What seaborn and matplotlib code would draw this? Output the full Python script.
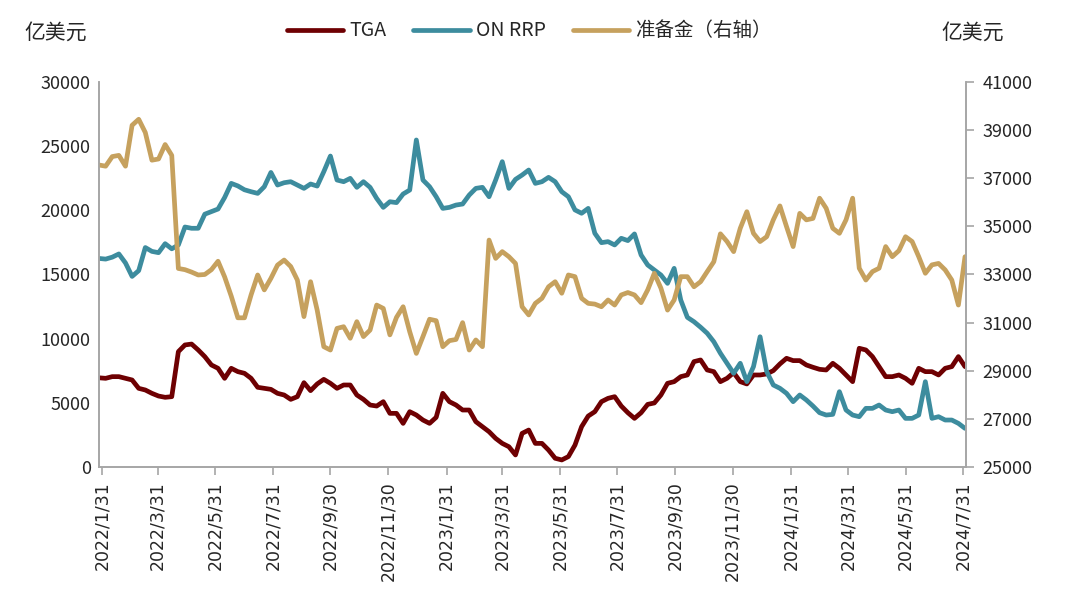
import pandas as pd
import seaborn as sns
import matplotlib.pyplot as plt

# weekly observations, 亿美元
start_date = "2022-01-28"

tga = [6950,
       6910, 7040, 7040, 6910, 6780, 6130, 6000, 5740, 5530, 5430, 5480, 8990, 9510, 9580, 9120, 8600, 7950, 7690, 6910, 7690, 7430, 7300,
       6910, 6210, 6130, 6050, 5740, 5610, 5270, 5480, 6570, 5950, 6470, 6830, 6520, 6130, 6390, 6390, 5610, 5270, 4830, 4750, 5090, 4180,
       4180, 3400, 4310, 4050, 3660, 3400, 3870, 5740, 5090, 4830, 4440, 4440, 3530, 3140, 2750, 2230, 1840, 1580, 940, 2620, 2880, 1840,
       1840, 1320, 680, 550, 810, 1710, 3140, 3970, 4310, 5090, 5350, 5480, 4750, 4230, 3790, 4230, 4880, 4990, 5610, 6520, 6650, 7040,
       7170, 8210, 8340, 7560, 7430, 6650, 6910, 7350, 6650, 6470, 7170, 7170, 7250, 7510, 8030, 8470, 8290, 8290, 7950, 7770, 7610, 7560,
       8080, 7690, 7170, 6650, 9250, 9120, 8600, 7820, 7040, 7040, 7170, 6910, 6520, 7690, 7430, 7430, 7170, 7690, 7820, 8600, 7820]

on_rrp = [16250,
          16200, 16350, 16600, 15900, 14850, 15300, 17100, 16800, 16700, 17400, 17000, 17300, 18700, 18600, 18600, 19700, 19900, 20100, 21000, 22100, 21900, 21600,
          21450, 21320, 21840, 22950, 21970, 22150, 22230, 21970, 21710, 22050, 21890, 23010, 24230, 22360, 22230, 22490, 21790, 22230, 21790, 20930, 20230, 20670,
          20600, 21270, 21580, 25480, 22360, 21840, 21060, 20150, 20230, 20410, 20490, 21190, 21710, 21790, 21060, 22360, 23790, 21710, 22410, 22750, 23140, 22100,
          22230, 22570, 22230, 21450, 21060, 20030, 19770, 20150, 18210, 17480, 17560, 17300, 17820, 17640, 18160, 16520, 15740, 15350, 14960, 14310, 15480, 13010,
          11660, 11320, 10890, 10420, 9760, 8860, 8080, 7300, 8080, 6650, 7820, 10150, 7430, 6390, 6130, 5740, 5090, 5610, 5220, 4750, 4230, 4050,
          4100, 5870, 4440, 4050, 3920, 4570, 4570, 4830, 4440, 4310, 4440, 3790, 3790, 4050, 6650, 3790, 3920, 3660, 3660, 3400, 3010]

reserves = [37550,
            37500, 37900, 37950, 37500, 39200, 39450, 38900, 37750, 37800, 38400, 37950, 33250, 33200, 33100, 32980, 33000, 33200, 33550, 32900, 32100, 31200, 31200,
            32150, 32980, 32360, 32840, 33390, 33600, 33330, 32770, 31250, 32700, 31520, 30000, 29860, 30760, 30830, 30350, 31040, 30420, 30690, 31730, 31590, 30490,
            31220, 31660, 30620, 29720, 30420, 31140, 31080, 30000, 30250, 30300, 31000, 29860, 30280, 30000, 34430, 33670, 33950, 33740, 33460, 31660, 31320, 31800,
            32010, 32490, 32700, 32220, 32980, 32910, 32010, 31800, 31770, 31660, 31940, 31730, 32150, 32250, 32150, 31830, 32360, 33050, 32430, 31520, 31940, 32910,
            32910, 32490, 32700, 33120, 33530, 34690, 34370, 33950, 34920, 35610, 34710, 34370, 34570, 35270, 35850, 34990, 34160, 35540, 35270, 35330, 36170, 35750,
            34920, 34710, 35270, 36170, 33260, 32770, 33120, 33260, 34160, 33740, 33990, 34570, 34370, 33740, 33050, 33400, 33460, 33190, 32770, 31730, 33740]

tick_dates = ["2022-01-31", "2022-03-31", "2022-05-31", "2022-07-31", "2022-09-30", "2022-11-30",
              "2023-01-31", "2023-03-31", "2023-05-31", "2023-07-31", "2023-09-30", "2023-11-30",
              "2024-01-31", "2024-03-31", "2024-05-31", "2024-07-31"]
tick_labels = ["2022/1/31", "2022/3/31", "2022/5/31", "2022/7/31", "2022/9/30", "2022/11/30",
               "2023/1/31", "2023/3/31", "2023/5/31", "2023/7/31", "2023/9/30", "2023/11/30",
               "2024/1/31", "2024/3/31", "2024/5/31", "2024/7/31"]

df = pd.DataFrame({
    "date": pd.date_range(start_date, periods=len(tga), freq="7D"),
    "TGA": tga,
    "ON RRP": on_rrp,
    "准备金（右轴）": reserves,
})

sns.set_style("white")
plt.rcParams['font.family'] = ['Noto Sans CJK SC', 'DejaVu Sans']
plt.rcParams['axes.unicode_minus'] = False

c_tga, c_rrp, c_res = "#6E0002", "#3D8C9E", "#C6A15E"
grey = "#A6A6A6"

fig, ax = plt.subplots(figsize=(10.8, 5.94), dpi=100)
fig.subplots_adjust(left=0.0917, right=0.8944, top=0.862, bottom=0.2138)
ax2 = ax.twinx()

sns.lineplot(data=df, x="date", y="TGA", ax=ax, color=c_tga, lw=3.4, label="TGA", legend=False)
sns.lineplot(data=df, x="date", y="ON RRP", ax=ax, color=c_rrp, lw=3.4, label="ON RRP", legend=False)
sns.lineplot(data=df, x="date", y="准备金（右轴）", ax=ax2, color=c_res, lw=3.4, label="准备金（右轴）", legend=False)

ax.set_xlim(pd.Timestamp("2022-01-28"), pd.Timestamp("2024-08-03"))
ax.set_ylim(0, 30000)
ax2.set_ylim(25000, 41000)
ax.set_yticks(range(0, 30001, 5000))
ax2.set_yticks(range(25000, 41001, 2000))
ax.set_xticks(pd.to_datetime(tick_dates))
ax.set_xticklabels(tick_labels, rotation=90, family="DejaVu Sans", fontsize=12.5, color="#262626")
ax.set_xlabel("")
ax.set_ylabel("")
ax2.set_ylabel("")

for a in (ax, ax2):
    for s in a.spines.values():
        s.set_color(grey)
        s.set_linewidth(1.2)
    a.spines["top"].set_visible(False)
    a.tick_params(axis="y", labelsize=13, labelcolor="#262626", length=0, pad=6)
ax.tick_params(axis="x", bottom=True, length=6, color=grey, direction="out", width=1.2, pad=4)
ax2.tick_params(axis="y", right=True, length=6, color=grey, direction="out", width=1.2)

fig.text(0.023, 0.945, "亿美元", fontsize=15, ha="left", va="center", color="#262626")
fig.text(0.93, 0.945, "亿美元", fontsize=15, ha="right", va="center", color="#262626")

h1, l1 = ax.get_legend_handles_labels()
h2, l2 = ax2.get_legend_handles_labels()
fig.legend(h1 + h2, l1 + l2, loc="center", bbox_to_anchor=(0.49, 0.948), ncol=3, frameon=False,
           fontsize=14, handlelength=2.9, handletextpad=0.3, columnspacing=1.4)

plt.savefig("out.png", dpi=100)
